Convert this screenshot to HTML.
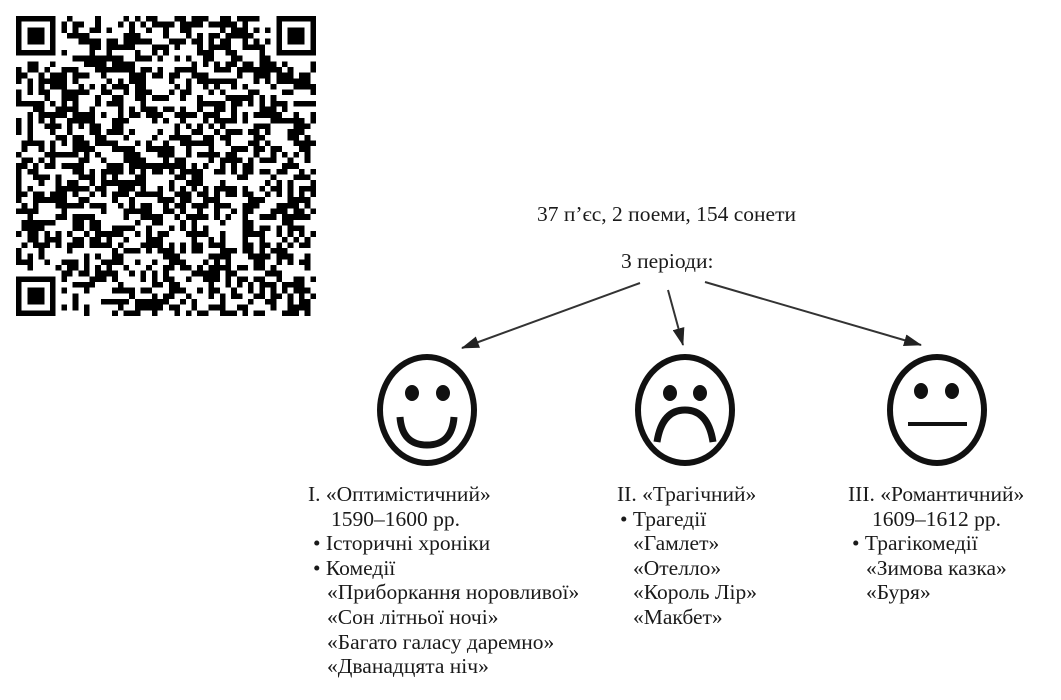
<!DOCTYPE html>
<html><head><meta charset="utf-8"><style>
body{margin:0;width:1061px;height:700px;background:#fff;position:relative;overflow:hidden;font-family:"Liberation Serif","DejaVu Serif",serif;color:#1a1a1a}
.t{position:absolute;font-size:21.5px;line-height:24.6px;white-space:nowrap}
.t div{height:24.6px}
</style></head><body>
<svg id="qr" width="300" height="300" style="position:absolute;left:16px;top:16px" viewBox="0 0 53 53" shape-rendering="crispEdges"></svg>
<svg width="1061" height="700" style="position:absolute;left:0;top:0">
<defs><marker id="b" markerWidth="18" markerHeight="12" refX="17" refY="6" orient="auto" markerUnits="userSpaceOnUse"><path d="M0,0 L18,6 L0,12 Z" fill="#222"/></marker></defs>
<line x1="640" y1="283" x2="462" y2="348" stroke="#333" stroke-width="2" marker-end="url(#b)"/>
<line x1="668" y1="290" x2="683" y2="345" stroke="#333" stroke-width="2" marker-end="url(#b)"/>
<line x1="705" y1="282" x2="921" y2="345" stroke="#333" stroke-width="2" marker-end="url(#b)"/>
<g fill="none" stroke="#111" stroke-width="6">
<ellipse cx="427" cy="410" rx="47" ry="53"/>
<ellipse cx="685" cy="410" rx="47" ry="53"/>
<ellipse cx="937" cy="410" rx="47" ry="53"/>
</g>
<g fill="#111">
<ellipse cx="412" cy="393" rx="7" ry="8"/><ellipse cx="443" cy="393" rx="7" ry="8"/>
<ellipse cx="670" cy="393" rx="7" ry="8"/><ellipse cx="700" cy="393" rx="7" ry="8"/>
<ellipse cx="921" cy="391" rx="7" ry="8"/><ellipse cx="952" cy="391" rx="7" ry="8"/>
</g>
<path d="M400,417 Q402,445 427,445 Q452,445 454,417" fill="none" stroke="#111" stroke-width="7"/>
<path d="M657,442 Q662,410 685,410 Q708,410 713,442" fill="none" stroke="#111" stroke-width="7"/>
<line x1="908" y1="424" x2="967" y2="424" stroke="#111" stroke-width="4"/>
</svg>
<div class="t" style="left:537px;top:202px;font-size:21.5px">37 п’єс, 2 поеми, 154 сонети</div>
<div class="t" style="left:621px;top:249px;font-size:21.5px">3 періоди:</div>
<div class="t" style="left:308px;top:482px">
<div>I. «Оптимістичний»</div><div style="padding-left:23px">1590–1600 рр.</div><div style="padding-left:5px">• Історичні хроніки</div><div style="padding-left:5px">• Комедії</div><div style="padding-left:19px">«Приборкання норовливої»</div><div style="padding-left:19px">«Сон літньої ночі»</div><div style="padding-left:19px">«Багато галасу даремно»</div><div style="padding-left:19px">«Дванадцята ніч»</div></div>
<div class="t" style="left:617px;top:482px">
<div>II. «Трагічний»</div><div style="padding-left:3px">• Трагедії</div><div style="padding-left:16px">«Гамлет»</div><div style="padding-left:16px">«Отелло»</div><div style="padding-left:16px">«Король Лір»</div><div style="padding-left:16px">«Макбет»</div></div>
<div class="t" style="left:848px;top:482px">
<div>III. «Романтичний»</div><div style="padding-left:24px">1609–1612 рр.</div><div style="padding-left:4px">• Трагікомедії</div><div style="padding-left:18px">«Зимова казка»</div><div style="padding-left:18px">«Буря»</div></div>
<script>
(function(){var N=53,s=document.getElementById('qr'),h='',seed=12345;
function r(){seed=(seed*1103515245+12345)&0x7fffffff;return seed/0x7fffffff;}
function fin(x,y){return '<rect x="'+x+'" y="'+y+'" width="7" height="7"/><rect x="'+(x+1)+'" y="'+(y+1)+'" width="5" height="5" fill="#fff"/><rect x="'+(x+2)+'" y="'+(y+2)+'" width="3" height="3"/>';}
for(var y=0;y<N;y++)for(var x=0;x<N;x++){
if((x<8&&y<8)||(x>=N-8&&y<8)||(x<8&&y>=N-8))continue;
if(r()<0.5)h+='<rect x="'+x+'" y="'+y+'" width="1" height="1"/>';}
h+=fin(0,0)+fin(N-7,0)+fin(0,N-7);
s.innerHTML=h;})();
</script>
</body></html>
